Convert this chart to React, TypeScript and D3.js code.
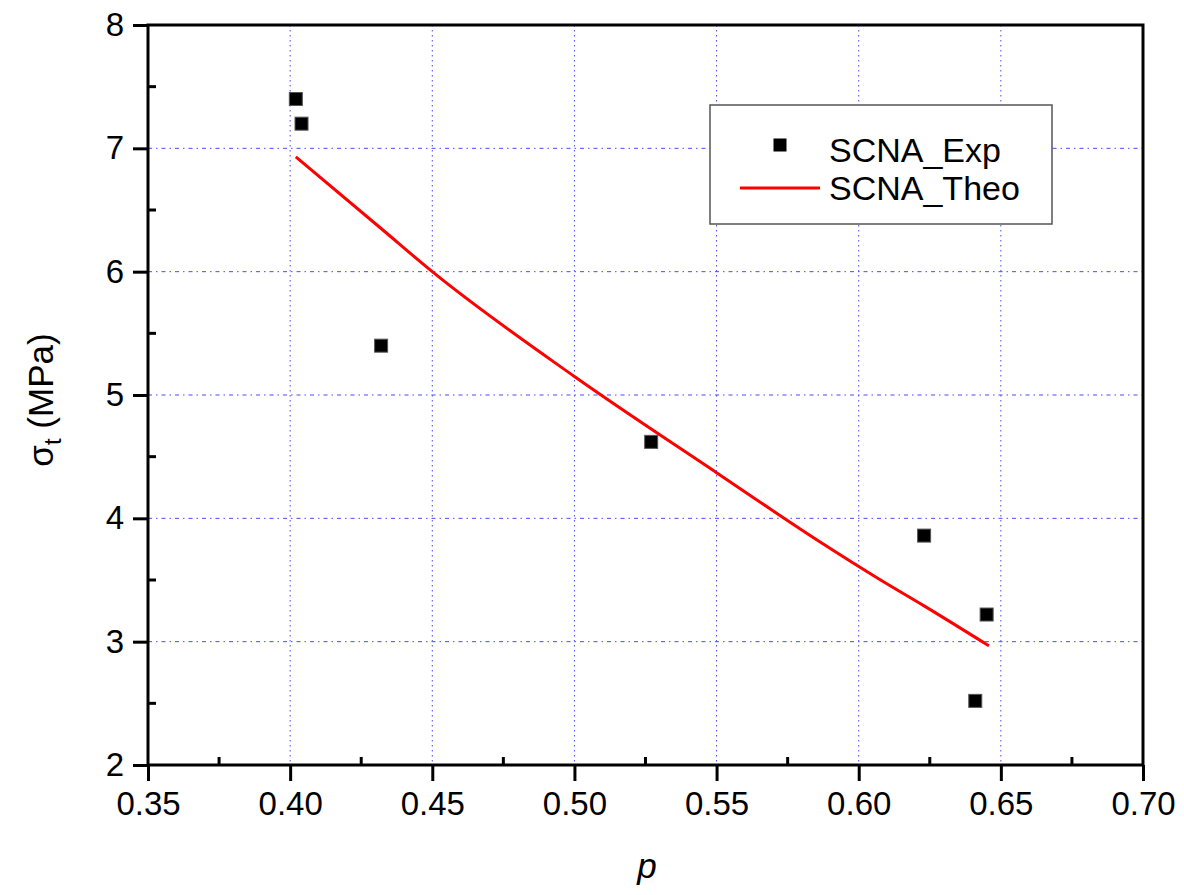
import React, { useRef, useEffect } from 'react';
import * as d3 from 'd3';

// experimental points (SCNA_Exp)
const expP = [0.402, 0.404, 0.432, 0.527, 0.623, 0.641, 0.645];
const expSigma = [7.40, 7.20, 5.40, 4.62, 3.86, 2.52, 3.22];

// theoretical curve (SCNA_Theo)
const theoP = [0.402, 0.432, 0.45, 0.50, 0.55, 0.5863, 0.6077, 0.623, 0.6458];
const theoSigma = [6.93, 6.35, 6.0, 5.15, 4.37, 3.81, 3.50, 3.29, 2.966];

const xTicks = [0.35, 0.40, 0.45, 0.50, 0.55, 0.60, 0.65, 0.70];
const yTicks = [2, 3, 4, 5, 6, 7, 8];
const xMinor = [0.375, 0.425, 0.475, 0.525, 0.575, 0.625, 0.675];
const yMinor = [2.5, 3.5, 4.5, 5.5, 6.5, 7.5];

const legendLabels = ['SCNA_Exp', 'SCNA_Theo'];

const App = () => {
  const svgRef = useRef<SVGSVGElement>(null);

  useEffect(() => {
    const svg = d3.select(svgRef.current);
    svg.selectAll('*').remove();

    const left = 148, right = 1143, top = 25, bottom = 765;
    const font = '"Liberation Sans", Arial, sans-serif';

    const x = d3.scaleLinear().domain([0.35, 0.70]).range([left, right]);
    const y = d3.scaleLinear().domain([2, 8]).range([bottom, top]);

    // grid
    const grid = svg.append('g');
    grid.selectAll('line.vx')
      .data(xTicks.slice(1, -1))
      .enter().append('line')
      .attr('x1', d => x(d)).attr('x2', d => x(d))
      .attr('y1', top).attr('y2', bottom)
      .attr('stroke', '#4a4aff').attr('stroke-width', 1)
      .attr('stroke-dasharray', '1.5,3.5');
    grid.selectAll('line.hy')
      .data(yTicks.slice(1, -1))
      .enter().append('line')
      .attr('x1', left).attr('x2', right)
      .attr('y1', d => y(d)).attr('y2', d => y(d))
      .attr('stroke', '#4a4aff').attr('stroke-width', 1)
      .attr('stroke-dasharray', '4,4,1.5,4');

    // frame
    svg.append('rect')
      .attr('x', left).attr('y', top)
      .attr('width', right - left).attr('height', bottom - top)
      .attr('fill', 'none').attr('stroke', '#000').attr('stroke-width', 3);

    // bottom axis
    const xAxis = svg.append('g')
      .attr('transform', `translate(0,${bottom})`)
      .call(d3.axisBottom(x).tickValues(xTicks).tickSize(16).tickFormat(d3.format('.2f')));
    xAxis.select('.domain').remove();
    xAxis.selectAll('line').attr('stroke-width', 3);
    xAxis.selectAll('text')
      .attr('font-size', 33).attr('font-family', font).attr('fill', '#000')
      .attr('y', 27).attr('dy', '0.71em');
    svg.append('g').selectAll('line')
      .data(xMinor).enter().append('line')
      .attr('x1', d => x(d)).attr('x2', d => x(d))
      .attr('y1', bottom).attr('y2', bottom - 8)
      .attr('stroke', '#000').attr('stroke-width', 3);

    // left axis
    const yAxis = svg.append('g')
      .attr('transform', `translate(${left},0)`)
      .call(d3.axisLeft(y).tickValues(yTicks).tickSize(15).tickFormat(d3.format('d')));
    yAxis.select('.domain').remove();
    yAxis.selectAll('line').attr('stroke-width', 3);
    yAxis.selectAll('text')
      .attr('font-size', 33).attr('font-family', font).attr('fill', '#000')
      .attr('x', -24);
    svg.append('g').selectAll('line')
      .data(yMinor).enter().append('line')
      .attr('x1', left).attr('x2', left + 8)
      .attr('y1', d => y(d)).attr('y2', d => y(d))
      .attr('stroke', '#000').attr('stroke-width', 3);

    // theory line
    const line = d3.line<number>()
      .x((d, i) => x(theoP[i]))
      .y(d => y(d))
      .curve(d3.curveMonotoneX);
    svg.append('path')
      .datum(theoSigma)
      .attr('fill', 'none')
      .attr('stroke', '#ff0000')
      .attr('stroke-width', 3)
      .attr('d', line);

    // experimental squares
    const s = 13;
    svg.append('g').selectAll('rect')
      .data(expSigma).enter().append('rect')
      .attr('x', (d, i) => x(expP[i]) - s / 2)
      .attr('y', d => y(d) - s / 2)
      .attr('width', s).attr('height', s)
      .attr('fill', '#000').attr('stroke', '#555').attr('stroke-width', 1);

    // legend
    const lg = svg.append('g');
    lg.append('rect')
      .attr('x', 710).attr('y', 105).attr('width', 342).attr('height', 119)
      .attr('fill', '#fff').attr('stroke', '#555').attr('stroke-width', 1.5);
    lg.append('rect')
      .attr('x', 780 - s / 2).attr('y', 145 - s / 2).attr('width', s).attr('height', s)
      .attr('fill', '#000');
    lg.append('line')
      .attr('x1', 740).attr('x2', 820).attr('y1', 188).attr('y2', 188)
      .attr('stroke', '#ff0000').attr('stroke-width', 3);
    lg.selectAll('text')
      .data(legendLabels).enter().append('text')
      .attr('x', 829)
      .attr('y', (d, i) => 162 + i * 38)
      .attr('font-size', 34).attr('font-family', font)
      .text(d => d);

    // axis titles
    svg.append('text')
      .attr('x', 647).attr('y', 878)
      .attr('text-anchor', 'middle')
      .attr('font-size', 35).attr('font-family', font).attr('font-style', 'italic')
      .text('p');

    const yt = svg.append('text')
      .attr('transform', 'translate(53,400) rotate(-90)')
      .attr('text-anchor', 'middle')
      .attr('font-size', 35).attr('font-family', font);
    yt.append('tspan').text('σ');
    yt.append('tspan').attr('font-size', 24).attr('dy', 8).text('t');
    yt.append('tspan').attr('dy', -8).text(' (MPa)');
  }, []);

  return (
    <svg ref={svgRef} width={1184} height={895}
      style={{ position: 'absolute', left: 0, top: 0, background: '#fff' }} />
  );
};

export default App;
